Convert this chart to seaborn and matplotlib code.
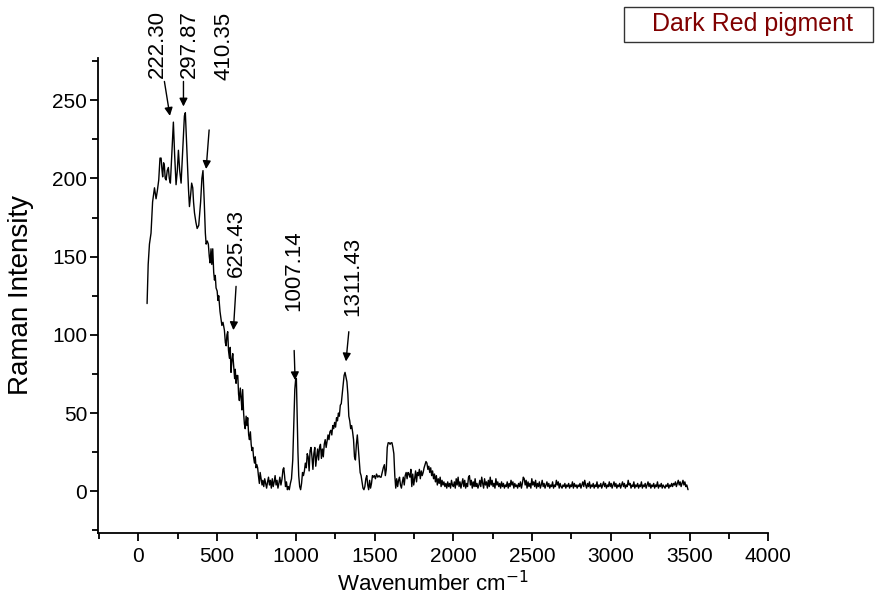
import matplotlib
matplotlib.use("Agg")
import matplotlib.pyplot as plt
from matplotlib.patches import Rectangle
from matplotlib.ticker import MultipleLocator
import seaborn as sns
import pandas as pd

# ---------------- data ----------------
wavenumber_main = [
    55, 62, 70, 80, 90, 102, 112, 120, 129, 137, 144, 150, 154, 160, 165, 170, 176, 183, 190, 196,
    203, 212, 222, 230, 239, 247, 254, 262, 271, 280, 292, 298, 305, 313, 318, 324, 332, 338, 345, 350,
    356, 365, 373, 383, 395, 403, 410, 418, 425, 430, 437, 444, 450, 455, 461, 466, 472, 478, 483, 488,
    493, 500, 505, 510, 518, 525, 530, 537, 546, 552, 557, 562, 567, 572, 578, 583, 588, 594, 599, 605,
    611, 615, 620, 625, 631, 636, 641, 647, 652, 657, 662, 668, 673, 678, 684, 689, 694, 700, 705, 711,
    716, 721, 726, 731, 737, 742, 747, 752, 757, 762, 768, 773, 779, 785, 790, 796, 802, 808, 814, 820,
    826, 832, 838, 844, 850, 856, 862, 868, 874, 880, 886, 892, 898, 905, 912, 918, 923, 928, 934, 940,
    946, 952, 958, 965, 972, 980, 987, 993, 998, 1003, 1008, 1013, 1018, 1024, 1030, 1036, 1042, 1048, 1054, 1060,
    1066, 1072, 1078, 1084, 1090, 1096, 1102, 1108, 1114, 1120, 1126, 1132, 1138, 1144, 1150, 1156, 1162, 1168, 1174, 1180,
    1186, 1192, 1198, 1204, 1210, 1216, 1222, 1228, 1234, 1240, 1246, 1252, 1258, 1264, 1270, 1276, 1282, 1288, 1294, 1300,
    1306, 1312, 1318, 1324, 1330, 1336, 1342, 1348, 1354, 1360, 1366, 1372, 1378, 1384, 1390, 1396, 1402, 1408, 1414, 1420,
    1426, 1432, 1438, 1444, 1450, 1456, 1462, 1468, 1474, 1480, 1486, 1492, 1498, 1505, 1512, 1520, 1528, 1535, 1541, 1548,
    1555, 1562, 1568, 1574, 1580, 1586, 1592, 1598, 1604, 1610, 1616, 1622, 1628, 1634, 1640, 1646, 1652, 1658, 1664, 1670,
    1676, 1682, 1688, 1694, 1700, 1706, 1712, 1718, 1724, 1730, 1736, 1742, 1748,
]
intensity_main = [
    120, 145, 158, 165, 185, 194, 187, 192, 199, 213, 213, 205, 201, 210, 208, 200, 199, 205, 207, 200,
    197, 215, 236, 215, 196, 205, 218, 205, 197, 215, 240, 242, 225, 207, 193, 182, 190, 197, 194, 185,
    178, 172, 168, 170, 185, 200, 205, 185, 165, 158, 160, 158, 150, 146, 155, 145, 155, 140, 135, 138,
    130, 128, 122, 125, 115, 110, 106, 108, 103, 95, 93, 100, 102, 90, 85, 92, 76, 84, 88, 80,
    72, 78, 69, 74, 74, 62, 58, 66, 60, 52, 65, 50, 43, 40, 48, 42, 47, 36, 33, 38,
    30, 26, 28, 22, 18, 22, 15, 17, 15, 10, 5, 12, 8, 4, 7, 3, 8, 5, 2, 6,
    9, 4, 7, 2, 8, 3, 6, 10, 4, 7, 2, 5, 9, 4, 8, 14, 15, 10, 3, 6,
    1, 3, 1, 5, 8, 20, 45, 65, 71, 72, 50, 25, 10, 3, 1, 5, 12, 10, 13, 18,
    15, 24, 22, 13, 26, 28, 22, 14, 24, 28, 16, 22, 27, 20, 28, 30, 21, 27, 22, 30,
    33, 28, 32, 36, 33, 38, 39, 36, 42, 40, 44, 41, 47, 45, 50, 48, 55, 56, 62, 68,
    74, 76, 73, 70, 62, 48, 45, 40, 42, 38, 33, 22, 20, 30, 36, 28, 20, 12, 10, 6,
    2, 1, 3, 8, 10, 4, 1, 7, 2, 5, 10, 9, 10, 8, 11, 9, 10, 9, 9, 12,
    15, 17, 10, 14, 28, 31, 31, 30, 31, 31, 28, 24, 10, 2, 8, 3, 7, 9, 4, 2,
    6, 9, 4, 10, 12, 8, 12, 11, 9, 14, 3, 11, 4,
]
wavenumber_tail = [
    1754, 1760, 1766, 1772, 1778, 1784, 1790, 1796, 1802, 1808, 1814, 1820, 1826, 1832, 1838, 1844, 1850, 1856, 1862, 1868,
    1874, 1880, 1886, 1892, 1898, 1904, 1910, 1916, 1922, 1928, 1934, 1940, 1946, 1952, 1958, 1964, 1970, 1976, 1982, 1988,
    1994, 2000, 2006, 2012, 2018, 2024, 2030, 2036, 2042, 2048, 2054, 2060, 2066, 2072, 2078, 2084, 2090, 2096, 2102, 2108,
    2114, 2120, 2126, 2132, 2138, 2144, 2150, 2156, 2162, 2168, 2174, 2180, 2186, 2192, 2198, 2204, 2210, 2216, 2222, 2228,
    2234, 2240, 2246, 2252, 2258, 2264, 2270, 2276, 2282, 2288, 2294, 2300, 2306, 2312, 2318, 2324, 2330, 2336, 2342, 2348,
    2354, 2360, 2366, 2372, 2378, 2384, 2390, 2396, 2402, 2408, 2414, 2420, 2426, 2432, 2438, 2444, 2450, 2456, 2462, 2468,
    2474, 2480, 2486, 2492, 2498, 2504, 2510, 2516, 2522, 2528, 2534, 2540, 2546, 2552, 2558, 2564, 2570, 2576, 2582, 2588,
    2594, 2600, 2606, 2612, 2618, 2624, 2630, 2636, 2642, 2648, 2654, 2660, 2666, 2672, 2678, 2684, 2690, 2696, 2702, 2708,
    2714, 2720, 2726, 2732, 2738, 2744, 2750, 2756, 2762, 2768, 2774, 2780, 2786, 2792, 2798, 2804, 2810, 2816, 2822, 2828,
    2834, 2840, 2846, 2852, 2858, 2864, 2870, 2876, 2882, 2888, 2894, 2900, 2906, 2912, 2918, 2924, 2930, 2936, 2942, 2948,
    2954, 2960, 2966, 2972, 2978, 2984, 2990, 2996, 3002, 3008, 3014, 3020, 3026, 3032, 3038, 3044, 3050, 3056, 3062, 3068,
    3074, 3080, 3086, 3092, 3098, 3104, 3110, 3116, 3122, 3128, 3134, 3140, 3146, 3152, 3158, 3164, 3170, 3176, 3182, 3188,
    3194, 3200, 3206, 3212, 3218, 3224, 3230, 3236, 3242, 3248, 3254, 3260, 3266, 3272, 3278, 3284, 3290, 3296, 3302, 3308,
    3314, 3320, 3326, 3332, 3338, 3344, 3350, 3356, 3362, 3368, 3374, 3380, 3386, 3392, 3398, 3404, 3410, 3416, 3422, 3428,
    3434, 3440, 3446, 3452, 3458, 3464, 3470, 3476, 3482, 3490,
]
intensity_tail = [
    8, 13, 6, 12, 10, 14, 8, 13, 10, 12, 15, 17, 19, 18, 14, 16, 12, 15, 10, 13,
    8, 11, 6, 10, 4, 8, 5, 9, 3, 7, 4, 6, 3, 5, 2, 6, 3, 5, 2, 7,
    4, 3, 6, 2, 8, 4, 9, 3, 6, 2, 5, 8, 3, 7, 2, 5, 3, 9, 10, 4,
    7, 2, 6, 3, 8, 3, 5, 2, 4, 7, 3, 9, 5, 2, 8, 4, 6, 2, 7, 3,
    9, 4, 7, 3, 5, 2, 8, 4, 6, 3, 5, 2, 6, 3, 5, 2, 4, 3, 6, 2,
    5, 3, 7, 4, 6, 2, 5, 3, 4, 2, 5, 3, 6, 2, 5, 9, 8, 4, 7, 2,
    6, 3, 5, 2, 8, 4, 6, 3, 7, 2, 5, 3, 6, 2, 4, 7, 3, 5, 2, 4,
    6, 3, 5, 2, 4, 3, 6, 2, 4, 3, 7, 4, 6, 2, 5, 3, 2, 4, 3, 5,
    2, 4, 3, 5, 2, 4, 3, 6, 2, 5, 3, 4, 2, 4, 3, 5, 2, 4, 6, 3,
    7, 4, 2, 5, 3, 6, 2, 4, 3, 5, 2, 4, 3, 6, 2, 4, 3, 5, 2, 4,
    6, 3, 5, 2, 4, 3, 6, 3, 5, 2, 4, 6, 3, 5, 2, 4, 3, 5, 2, 4,
    6, 3, 5, 2, 4, 3, 7, 4, 5, 2, 4, 3, 6, 2, 4, 3, 5, 2, 4, 3,
    6, 2, 4, 3, 5, 2, 4, 6, 3, 5, 2, 4, 3, 5, 2, 4, 3, 6, 2, 4,
    3, 5, 2, 4, 3, 2, 4, 3, 5, 2, 4, 3, 5, 3, 5, 4, 6, 3, 5, 7,
    4, 6, 3, 5, 7, 4, 6, 3, 4, 1,
]

peak_labels = ["222.30", "297.87", "410.35", "625.43", "1007.14", "1311.43"]
label_x = [118, 325, 545, 620, 989, 1362]
label_y = [264, 264, 263, 137, 115, 112]
arrow_tail_x = [165, 286, 449, 620, 989, 1336]
arrow_tail_y = [262, 262, 231, 131, 90, 102]
arrow_head_x = [200, 286, 430, 603, 995, 1318]
arrow_head_y = [240, 246, 206, 103, 71, 83]

x_ticks = [0, 500, 1000, 1500, 2000, 2500, 3000, 3500, 4000]
y_ticks = [0, 50, 100, 150, 200, 250]
legend_label = "Dark Red pigment"

# ---------------- plotting ----------------
sns.set_style("ticks")
plt.rcParams["font.family"] = ["Liberation Sans", "DejaVu Sans"]
plt.rcParams["text.color"] = "black"
plt.rcParams["axes.labelcolor"] = "black"

df = pd.DataFrame({
    "wavenumber": wavenumber_main + wavenumber_tail,
    "intensity": intensity_main + intensity_tail,
})

fig = plt.figure(figsize=(8.75, 5.96), dpi=100)
ax = fig.add_axes([0.1123, 0.1062, 0.7658, 0.7965])

sns.lineplot(data=df, x="wavenumber", y="intensity", ax=ax, color="black",
             linewidth=1.0, sort=False, estimator=None, legend=False)

ax.set_xlim(-255, 4000)
ax.set_ylim(-26.5, 277)
ax.set_xticks(x_ticks)
ax.set_yticks(y_ticks)
ax.xaxis.set_minor_locator(MultipleLocator(250))
ax.yaxis.set_minor_locator(MultipleLocator(25))
ax.tick_params(axis="both", which="major", direction="out", length=6, width=1.3,
               labelsize=15, colors="black", pad=2)
ax.tick_params(axis="x", which="major", pad=4)
ax.tick_params(axis="both", which="minor", direction="out", length=4, width=1.3,
               colors="black")
for side in ["top", "right"]:
    ax.spines[side].set_visible(False)
for side in ["left", "bottom"]:
    ax.spines[side].set_linewidth(1.3)
    ax.spines[side].set_color("black")

ax.set_xlabel("Wavenumber cm$^{-1}$", fontsize=16, labelpad=4, color="black")
ax.set_ylabel("Raman Intensity", fontsize=20, labelpad=13, color="black")

for lab, lx, ly in zip(peak_labels, label_x, label_y):
    ax.text(lx, ly, lab, rotation=90, ha="center", va="bottom", fontsize=16,
            color="black", clip_on=False)
for tx, ty, hx, hy in zip(arrow_tail_x, arrow_tail_y, arrow_head_x, arrow_head_y):
    ax.annotate("", xy=(hx, hy), xytext=(tx, ty), annotation_clip=False,
                arrowprops=dict(arrowstyle="-|>", color="black", lw=1.0,
                                mutation_scale=12, shrinkA=0, shrinkB=0))

# legend-like box at top right
fig.patches.append(Rectangle((624 / 875, 1 - 42 / 596), 249 / 875, 35 / 596,
                             transform=fig.transFigure, facecolor="white",
                             edgecolor="#333333", linewidth=1.0))
fig.text(752 / 875, 1 - 24.5 / 596, legend_label, ha="center", va="center",
         fontsize=18, color="#800000")

fig.savefig("out.png", dpi=100, facecolor="white")
